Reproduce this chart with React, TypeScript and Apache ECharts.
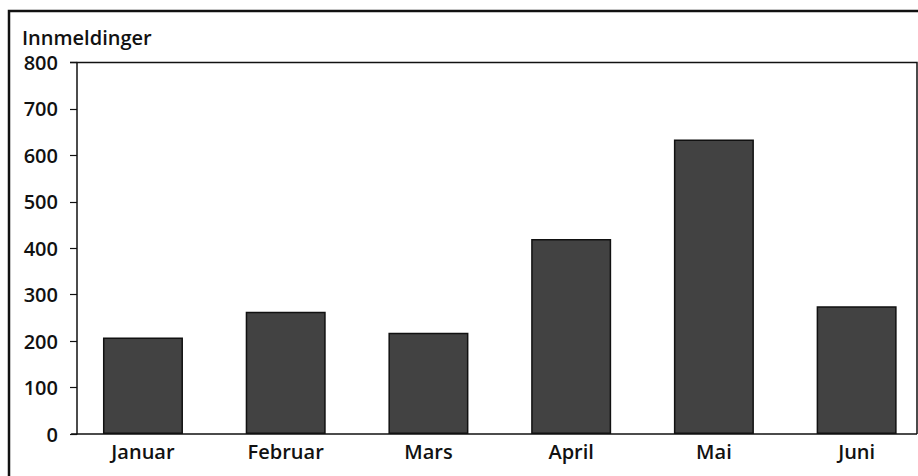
import React, { useEffect, useRef } from "react";
import * as echarts from "echarts";

const categories = ["Januar", "Februar", "Mars", "April", "Mai", "Juni"];
const innmeldinger = [208, 263, 218, 420, 634, 275];
const yAxisTitle = "Innmeldinger";

export default function App() {
  const ref = useRef<HTMLDivElement>(null);

  useEffect(() => {
    if (!ref.current) return;
    const chart = echarts.init(ref.current, null, { renderer: "svg" });
    const font = "'Open Sans', 'Noto Sans', sans-serif";
    chart.setOption({
      animation: false,
      backgroundColor: "#ffffff",
      grid: { left: 71.6, right: 2, top: 62.5, bottom: 42, containLabel: false, outerBoundsMode: "none" },
      xAxis: {
        type: "category",
        data: categories,
        axisLine: { show: true, lineStyle: { color: "#111", width: 1.5 } },
        axisTick: { show: false },
        axisLabel: { color: "#111", fontSize: 20, fontWeight: 600, fontFamily: font, margin: 7 },
      },
      yAxis: {
        type: "value",
        min: 0,
        max: 800,
        interval: 100,
        offset: -5.4,
        axisLine: { show: true, lineStyle: { color: "#111", width: 1.5 } },
        axisTick: { show: true, inside: false, length: 7, lineStyle: { color: "#111", width: 1.2 } },
        axisLabel: { color: "#111", fontSize: 20, fontWeight: 600, fontFamily: font, margin: 19 },
        splitLine: { show: false },
      },
      graphic: [
        {
          type: "rect",
          shape: { x: 917, y: 0, width: 20, height: 476 },
          style: { fill: "#ffffff" },
          z: 9,
        },
        {
          type: "polyline",
          shape: { points: [[70, 62.5], [917, 62.5], [917, 434]] },
          style: { stroke: "#111", lineWidth: 1.5, fill: null },
          z: 10,
        },
        {
          type: "polyline",
          shape: { points: [[9, 476], [9, 11], [930, 11]] },
          style: { stroke: "#111", lineWidth: 2.5, fill: null },
          z: 10,
        },
        {
          type: "text",
          left: 22,
          top: 27,
          style: { text: yAxisTitle, fill: "#111", fontSize: 20, fontWeight: 600, fontFamily: font },
        },
      ],
      series: [
        {
          type: "bar",
          data: innmeldinger,
          barWidth: 80,
          itemStyle: { color: "#424242", borderColor: "#111", borderWidth: 1.5 },
        },
      ],
    });
    return () => chart.dispose();
  }, []);

  return (
    <div
      ref={ref}
      style={{ position: "fixed", left: 0, top: 0, width: 930, height: 476 }}
    />
  );
}
